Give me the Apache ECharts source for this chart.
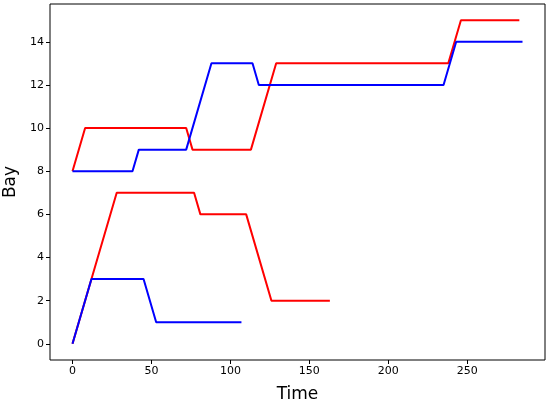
<!DOCTYPE html>
<html>
<head>
<meta charset="utf-8">
<script src="https://cdn.jsdelivr.net/npm/echarts@6/dist/echarts.min.js"></script>
<style>
  html, body { margin: 0; padding: 0; background: #fff; }
  #box { width: 550px; height: 402px; }
</style>
</head>
<body>
<div id="box"></div>
<script>
// [time, bay] points for each line
var redUpper = [[0, 8], [8, 10], [72, 10], [76, 9], [113, 9], [129, 13], [238, 13], [246, 15], [283, 15]];
var blueUpper = [[0, 8], [38, 8], [42, 9], [72, 9], [88, 13], [114, 13], [118, 12], [235, 12], [243, 14], [285, 14]];
var redLower = [[0, 0], [28, 7], [77, 7], [81, 6], [110, 6], [126, 2], [163, 2]];
var blueLower = [[0, 0], [12, 3], [45, 3], [53, 1], [107, 1]];

var xTicks = [0, 50, 100, 150, 200, 250];
var yTicks = [0, 2, 4, 6, 8, 10, 12, 14];

var myChart = echarts.init(document.getElementById("box"));

function line(data, color) {
    return {
        type: 'line',
        data: data,
        symbol: 'none',
        color: color,
        lineStyle: { width: 2, color: color },
        animation: false
    };
}

var tickFont = { fontFamily: 'DejaVu Sans', fontSize: 11, color: '#000' };

var option = {
    animation: false,
    grid: {
        left: 50,
        right: 5,
        top: 4,
        bottom: 42,
        outerBoundsMode: 'none',
        containLabel: false,
        show: true,
        borderColor: '#000',
        borderWidth: 1
    },
    xAxis: {
        type: 'value',
        min: -14.25,
        max: 299.25,
        name: 'Time',
        nameLocation: 'middle',
        nameGap: 26,
        nameTextStyle: { fontFamily: 'DejaVu Sans', fontSize: 17, color: '#000' },
        axisLine: { show: false, onZero: false },
        axisTick: { show: true, length: 4, lineStyle: { color: '#000' }, customValues: xTicks },
        axisLabel: Object.assign({ margin: 6, customValues: xTicks }, tickFont),
        splitLine: { show: false }
    },
    yAxis: {
        type: 'value',
        min: -0.75,
        max: 15.75,
        name: 'Bay',
        nameLocation: 'middle',
        nameGap: 30,
        nameTextStyle: { fontFamily: 'DejaVu Sans', fontSize: 17, color: '#000' },
        axisLine: { show: false, onZero: false },
        axisTick: { show: true, length: 4, lineStyle: { color: '#000' }, customValues: yTicks },
        axisLabel: Object.assign({ margin: 6, customValues: yTicks }, tickFont),
        splitLine: { show: false }
    },
    series: [
        line(redUpper, '#ff0000'),
        line(blueUpper, '#0000ff'),
        line(redLower, '#ff0000'),
        line(blueLower, '#0000ff')
    ]
};

myChart.setOption(option);
</script>
</body>
</html>
